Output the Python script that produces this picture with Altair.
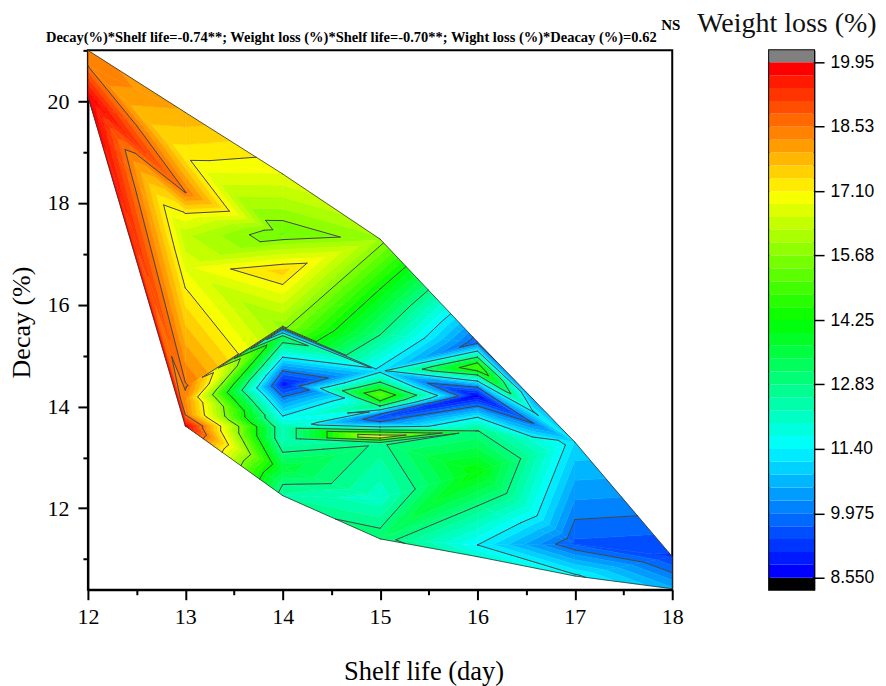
import altair as alt
import pandas as pd

# Read-off mesh: decay (y) and weight loss (z) along each shelf-life column
x_12 = 12.0
y_12 = [21.00, 20.69, 20.10]
z_12 = [18.4, 18.53, 19.9]

x_13 = 13.0
y_13 = [19.78, 18.92, 18.21, 17.78, 17.35, 16.74, 16.27, 14.38, 14.15, 13.85, 13.62]
z_13 = [17.9, 17.2, 18.55, 17.05, 16.3, 16.75, 17.15, 18.6, 18.3, 18.45, 19.9]

x_14 = 14.0
y_14 = [18.57, 17.39, 16.66, 15.58, 15.50, 15.37, 14.97, 14.70, 14.44, 14.19, 13.76, 13.60, 13.36, 13.07, 12.78, 12.48, 12.25]
z_14 = [16.8, 15.35, 17.5, 15.85, 10.0, 13.4, 11.4, 9.975, 8.9, 9.975, 11.6, 12.2, 12.2, 12.9, 13.6, 12.85, 12.5]

x_15 = 15.0
y_15 = [17.29, 16.31, 15.41, 14.70, 14.48, 14.33, 14.23, 14.11, 14.01, 13.93, 13.85, 13.78, 13.70, 13.60, 13.54, 13.50, 13.44, 13.41, 13.38, 13.34, 13.29, 12.19, 11.40]
z_15 = [15.9, 14.25, 12.83, 11.2, 12.83, 14.25, 15.3, 14.25, 12.83, 11.3, 9.975, 9.5, 9.975, 11.4, 12.83, 14.25, 15.68, 16.7, 15.68, 14.25, 12.72, 12.05, 13.1]

x_16 = 16.0
y_16 = [15.27, 15.09, 14.97, 14.86, 14.78, 14.70, 14.62, 14.50, 14.38, 14.21, 14.01, 13.78, 13.52, 12.72, 12.05, 11.28, 11.05]
z_16 = [9.7, 11.4, 12.83, 14.25, 14.95, 14.25, 12.83, 11.4, 9.975, 8.7, 9.975, 11.45, 12.85, 14.2, 12.83, 11.4, 12.0]

x_16b = 16.564
y_16b = [14.16, 13.91, 13.68, 13.40]
z_16b = [10.5, 11.45, 9.95, 11.42]

x_17 = 17.0
y_17 = [13.30, 11.30, 10.67]
z_17 = [11.1, 9.62, 11.5]

x_18 = 18.0
y_18 = [11.05, 10.42]
z_18 = [9.35, 10.6]

# Contour level set of the colour bar
level_min = 8.55
level_step = 0.285
tick_values = [8.55, 9.975, 11.4, 12.83, 14.25, 15.68, 17.1, 18.53, 19.95]
x_ticks = [12, 12.5, 13, 13.5, 14, 14.5, 15, 15.5, 16, 16.5, 17, 17.5, 18]
y_ticks = [11, 12, 13, 14, 15, 16, 17, 18, 19, 20, 21]
hue_stops = [(0, 0, 255), (0, 255, 255), (0, 255, 0), (255, 255, 0), (255, 0, 0)]

title_main = "Decay(%)*Shelf life=-0.74**; Weight loss (%)*Shelf life=-0.70**; Wight loss (%)*Deacay (%)=0.62"
title_sup = "NS"
title_bar = "Weight loss (%)"
SERIF = "Liberation Serif"
SANS = "Liberation Sans"


def col(x, ys, zs):
    return [(x, y, z) for y, z in zip(ys, zs)]


c12, c13, c14, c15 = col(x_12, y_12, z_12), col(x_13, y_13, z_13), col(x_14, y_14, z_14), col(x_15, y_15, z_15)
c16, c16b, c17, c18 = col(x_16, y_16, z_16), col(x_16b, y_16b, z_16b), col(x_17, y_17, z_17), col(x_18, y_18, z_18)

triangles = []


def strip(left, right, moves):
    i = j = 0
    for m in moves:
        if m == "L":
            triangles.append((left[i], right[j], left[i + 1]))
            i += 1
        else:
            triangles.append((left[i], right[j], right[j + 1]))
            j += 1
    assert i == len(left) - 1 and j == len(right) - 1, (i, j, len(left), len(right))


strip(c12, c13, "LRL" + "R" * 9)
strip(c13, c14, "LRLLLL" + "RRLL" + "RRLRRRRRLRLRRRRR")
strip(c14, c15, "LLLRRRLLLLLRRRRRLLRL" + "R" * 8 + "LRRRLLRLLR")
strip(c15, c16, "LLL" + "R" * 9 + "L" * 8 + "RRR" + "L" * 9 + "RLLRRR")
strip(c16[:13], c16b, "LLLLRLLLRLLLRLL")
strip(c16b, c17[:1], "LLL")
strip([c16b[-1]] + c16[12:], c17, "LLRLLRL")
strip(c17, c18, "LLR")


def cross(a, b, lv):
    t = (lv - a[2]) / (b[2] - a[2])
    return (a[0] + t * (b[0] - a[0]), a[1] + t * (b[1] - a[1]), lv)


def clip(poly, lv, above):
    out = []
    for k, p in enumerate(poly):
        q = poly[(k + 1) % len(poly)]
        pin = (p[2] > lv) == above
        qin = (q[2] > lv) == above
        if pin:
            out.append(p)
        if pin != qin:
            out.append(cross(p, q, lv))
    return out


n_bands = 40
levels = [level_min + level_step * k for k in range(n_bands + 1)]

rows = []
pid = 0
for tri in triangles:
    for b in range(n_bands):
        poly = clip(list(tri), levels[b], True)
        if len(poly) >= 3:
            poly = clip(poly, levels[b + 1], False)
        if len(poly) >= 3:
            for v, p in enumerate(poly):
                rows.append({"p": pid, "v": v, "x": round(p[0], 4), "y": round(p[1], 4), "b": b})
            pid += 1
fill_df = pd.DataFrame(rows)

segs = []
for lv in levels[5::5][:7]:
    for tri in triangles:
        pts = []
        for k in range(3):
            p, q = tri[k], tri[(k + 1) % 3]
            if (p[2] > lv) != (q[2] > lv):
                pts.append(cross(p, q, lv))
        if len(pts) == 2:
            segs.append({"x": round(pts[0][0], 4), "y": round(pts[0][1], 4), "x2": round(pts[1][0], 4), "y2": round(pts[1][1], 4)})
seg_df = pd.DataFrame(segs)

outline = [c[0] for c in (c12, c13, c14, c15, c16, c16b, c17, c18)] + [c[-1] for c in (c18, c17, c16, c15, c14, c13, c12)] + [c12[0]]
hull_df = pd.DataFrame([{"x": a[0], "y": a[1], "x2": b[0], "y2": b[1]} for a, b in zip(outline, outline[1:])])


def band_color(i):
    f = i / (n_bands - 1) * 4
    k = min(int(f), 3)
    t = f - k
    a, b = hue_stops[k], hue_stops[k + 1]
    return "#%02x%02x%02x" % tuple(round(a[c] + t * (b[c] - a[c])) for c in range(3))


domain = [-1] + list(range(n_bands)) + [n_bands]
colors = ["#000000"] + [band_color(i) for i in range(n_bands)] + ["#808080"]
color_scale = alt.Scale(domain=domain, range=colors)

xs = alt.Scale(domain=[12, 18], nice=False, zero=False)
ys = alt.Scale(domain=[10.4, 21.0], nice=False, zero=False)
x_axis = alt.Axis(
    values=x_ticks, title="Shelf life (day)", grid=False, labelFont=SERIF, labelFontSize=22, labelColor="black",
    titleFont=SERIF, titleFontSize=26.5, titleFontWeight="normal", titleColor="black", titlePadding=31, labelPadding=7,
    titleX=336,
    tickColor="black", tickWidth=2, domainColor="black", domainWidth=2, labelFlush=False, labelOverlap=False,
    labelExpr="datum.value % 1 ? '' : format(datum.value, 'd')",
    tickSize={"condition": {"test": "datum.value % 1 != 0", "value": 5}, "value": 10},
)
y_axis = alt.Axis(
    values=y_ticks, title="Decay (%)", grid=False, labelFont=SERIF, labelFontSize=22, labelColor="black",
    titleFont=SERIF, titleFontSize=26, titleFontWeight="normal", titleColor="black", titlePadding=12, labelPadding=9,
    titleY=272,
    tickColor="black", tickWidth=2, domainColor="black", domainWidth=2, labelFlush=False, labelOverlap=False,
    labelExpr="datum.value % 2 ? '' : format(datum.value, 'd')",
    tickSize={"condition": {"test": "datum.value % 2 != 0", "value": 5}, "value": 10},
)

fills = alt.Chart(fill_df).mark_line(interpolate="linear-closed", strokeWidth=0.5, clip=True).encode(
    x=alt.X("x:Q", scale=xs, axis=x_axis),
    y=alt.Y("y:Q", scale=ys, axis=y_axis),
    order=alt.Order("v:Q"),
    detail="p:N",
    fill=alt.Fill("b:O", scale=color_scale, legend=None),
    stroke=alt.Stroke("b:O", scale=color_scale, legend=None),
)
lines = alt.Chart(seg_df).mark_rule(color="#444444", strokeWidth=1, strokeCap="round").encode(
    x=alt.X("x:Q", scale=xs), y=alt.Y("y:Q", scale=ys), x2="x2:Q", y2="y2:Q"
)
hull = alt.Chart(hull_df).mark_rule(color="#333333", strokeWidth=0.8, strokeCap="round").encode(
    x=alt.X("x:Q", scale=xs), y=alt.Y("y:Q", scale=ys), x2="x2:Q", y2="y2:Q"
)
main_title = alt.Chart(pd.DataFrame({"t": [title_main]})).mark_text(
    font=SERIF, fontSize=14.5, fontWeight="bold", align="left", baseline="middle", color="black"
).encode(text="t:N", x=alt.value(-42), y=alt.value(-12))
sup_title = alt.Chart(pd.DataFrame({"t": [title_sup]})).mark_text(
    font=SERIF, fontSize=15, fontWeight="bold", align="left", baseline="middle", color="black"
).encode(text="t:N", x=alt.value(574), y=alt.value(-25))

main = alt.layer(fills, lines, hull, main_title, sup_title).properties(width=585, height=540)

edges = [level_min - level_step * 0.93] + levels + [levels[-1] + level_step * 0.93]
bar_df = pd.DataFrame({"lo": edges[:-1], "hi": edges[1:], "b": domain})
bar_axis = alt.Axis(
    values=tick_values, format=".4r", orient="right", title=None, grid=False, labelFont=SANS, labelFontSize=17.5,
    labelColor="black", tickColor="black", tickWidth=1.5, tickSize=10, domainColor="black", domainWidth=1.5,
    labelPadding=6, labelOverlap=False, labelFlush=False,
)
bar = alt.Chart(bar_df).mark_rect().encode(
    x=alt.value(0), x2=alt.value(45),
    y=alt.Y("lo:Q", scale=alt.Scale(domain=[edges[0], edges[-1]], nice=False, zero=False), axis=bar_axis),
    y2="hi:Q",
    fill=alt.Fill("b:O", scale=color_scale, legend=None),
)
bar_title = alt.Chart(pd.DataFrame({"t": [title_bar]})).mark_text(
    font=SERIF, fontSize=28, align="left", baseline="middle", color="#111111"
).encode(text="t:N", x=alt.value(-72), y=alt.value(-26))
bar_panel = alt.layer(bar, bar_title).properties(width=45, height=540)

chart = alt.hconcat(main, bar_panel, spacing=12).resolve_scale(fill="independent", stroke="independent").properties(
    padding={"left": 0, "top": 1, "right": 0, "bottom": 0}
).configure_view(stroke="black", strokeWidth=2)

chart.save("out.html", embed_options={"renderer": "svg", "actions": False})
